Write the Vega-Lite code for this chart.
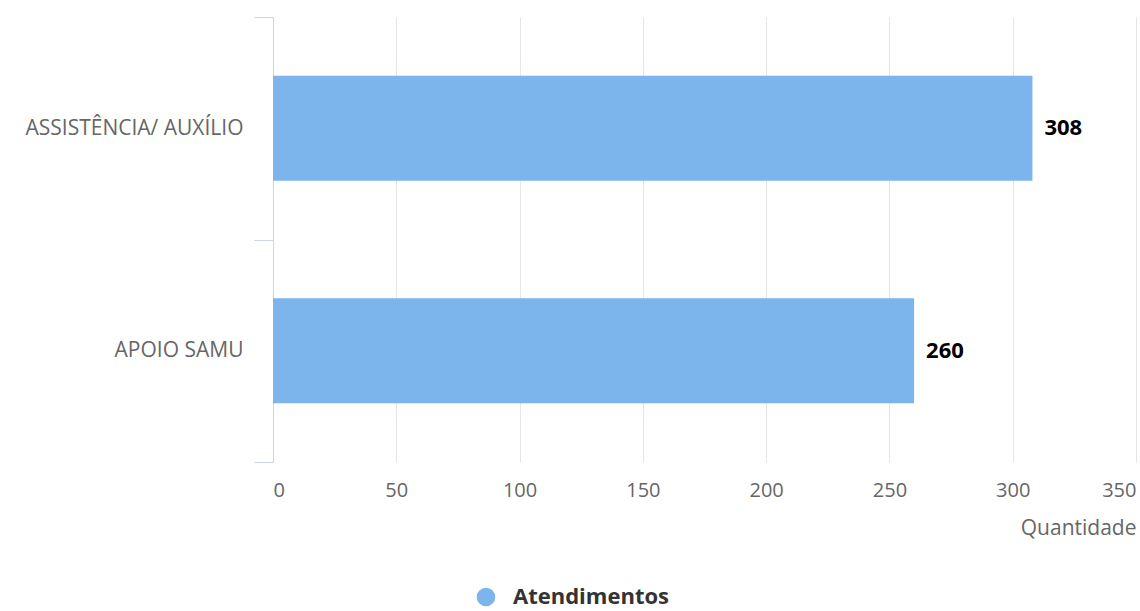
{
  "$schema": "https://vega.github.io/schema/vega-lite/v6.json",
  "autosize": {"type": "none"},
  "width": 863,
  "height": 445,
  "padding": {"left": 273, "top": 17, "right": 4, "bottom": 149},
  "background": "#ffffff",
  "config": {
    "view": {"stroke": null},
    "font": "Open Sans"
  },
  "data": {
    "values": [
      {"categoria": "ASSISTÊNCIA/ AUXÍLIO", "quantidade": 308, "serie": "Atendimentos"},
      {"categoria": "APOIO SAMU", "quantidade": 260, "serie": "Atendimentos"}
    ]
  },
  "encoding": {
    "y": {
      "field": "categoria",
      "type": "nominal",
      "sort": null,
      "scale": {"paddingInner": 0, "paddingOuter": 0},
      "axis": {
        "title": null,
        "tickBand": "extent",
        "tickSize": 19,
        "tickColor": "#ccd6eb",
        "domainColor": "#ccd6eb",
        "labelPadding": 11,
        "labelFontSize": 21,
        "labelLimit": 400,
        "labelColor": "#666666",
        "labelFont": "Open Sans",
        "grid": false
      }
    },
    "x": {
      "field": "quantidade",
      "type": "quantitative",
      "scale": {"domain": [0, 350], "nice": false},
      "axis": {
        "values": [0, 50, 100, 150, 200, 250, 300, 350],
        "title": "Quantidade",
        "titleAnchor": "end",
        "titleFontSize": 21,
        "titleFontWeight": "normal",
        "titleColor": "#666666",
        "titleFont": "Open Sans",
        "titlePadding": 17,
        "domain": false,
        "ticks": false,
        "labelPadding": 18,
        "labelFontSize": 20,
        "labelColor": "#666666",
        "labelFont": "Open Sans",
        "grid": true,
        "gridColor": "#e6e6e6",
        "gridWidth": 1
      }
    }
  },
  "layer": [
    {
      "mark": {"type": "bar", "height": {"band": 0.472}},
      "encoding": {
        "color": {
          "field": "serie",
          "type": "nominal",
          "scale": {"range": ["#7cb5ec"]},
          "legend": {
            "title": null,
            "orient": "none",
            "legendX": 202,
            "legendY": 569,
            "symbolType": "circle",
            "symbolSize": 346,
            "symbolStrokeWidth": 0,
            "labelFontSize": 22,
            "labelFontWeight": "bold",
            "labelColor": "#333333",
            "labelFont": "Open Sans",
            "labelOffset": 16
          }
        }
      }
    },
    {
      "mark": {
        "type": "text",
        "align": "left",
        "baseline": "middle",
        "dx": 12,
        "fontSize": 22,
        "fontWeight": "bold",
        "color": "#000000",
        "font": "Open Sans"
      },
      "encoding": {
        "text": {"field": "quantidade", "type": "quantitative"}
      }
    }
  ]
}
